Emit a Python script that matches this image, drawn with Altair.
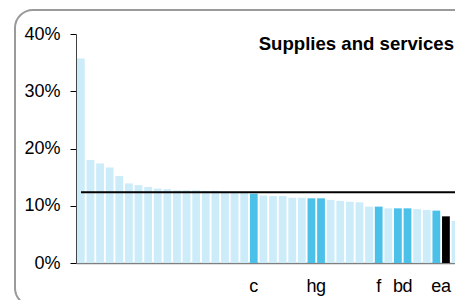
import altair as alt
import pandas as pd

# Share of spend per organisation (percent), sorted descending
values = [35.7, 18.0, 17.4, 16.7, 15.2, 13.9, 13.6, 13.3, 13.0, 12.9,
          12.7, 12.7, 12.7, 12.6, 12.6, 12.4, 12.3, 12.3, 12.1, 11.8,
          11.7, 11.7, 11.4, 11.4, 11.3, 11.3, 11.0, 10.85, 10.7, 10.6,
          9.85, 9.85, 9.55, 9.55, 9.55, 9.4, 9.25, 9.15, 8.15, 7.35, 6.8]
labels = ["", "", "", "", "", "", "", "", "", "",
          "", "", "", "", "", "", "", "", "c", "",
          "", "", "", "", "h", "g", "", "", "", "",
          "", "f", "", "b", "d", "", "", "e", "a", "", ""]
groups = ["other"] * 18 + ["highlight"] + ["other"] * 5 + ["highlight", "highlight"] + \
         ["other"] * 5 + ["highlight", "other", "highlight", "highlight", "other", "other",
                          "highlight", "black", "other", "other"]
mean_value = 12.35
title_text = "Supplies and services"

FONT = "Liberation Sans"

df = pd.DataFrame({
    "idx": list(range(len(values))),
    "share": [v / 100 for v in values],
    "label": labels,
    "group": groups,
})

label_expr = "[" + ",".join("'" + l + "'" for l in labels) + "][datum.value]"

W, H = 394, 229

x = alt.X("idx:O",
          scale=alt.Scale(paddingInner=0.19, paddingOuter=0.1),
          axis=alt.Axis(title=None, labelExpr=label_expr, labelAngle=0, ticks=False,
                        domainColor="#808080", domainWidth=1.5, labelFontSize=18,
                        labelPadding=14, labelColor="#000000", labelFont=FONT))
y = alt.Y("share:Q",
          scale=alt.Scale(domain=[0, 0.4]),
          axis=alt.Axis(title=None, format=".0%", values=[0, 0.1, 0.2, 0.3, 0.4], grid=False,
                        tickSize=6, tickColor="#000000", domainColor="#404040",
                        labelFontSize=18, labelPadding=10, labelColor="#000000",
                        labelFont=FONT))

bars = alt.Chart(df).mark_bar().encode(
    x=x, y=y,
    color=alt.Color("group:N",
                    scale=alt.Scale(domain=["other", "highlight", "black"],
                                    range=["#CCECF9", "#4BC1EA", "#000000"]),
                    legend=None),
)

rule = alt.Chart(pd.DataFrame({"mean": [mean_value / 100]})).mark_rule(
    color="#000000", strokeWidth=2).encode(
    y=alt.Y("mean:Q"), x=alt.value(5), x2=alt.value(W))

frame = alt.Chart(pd.DataFrame({"a": [0]})).mark_rect(
    fill="#ffffff", fillOpacity=0, stroke="#9a9a9a", strokeWidth=2, cornerRadius=18).encode(
    x=alt.value(-61), x2=alt.value(W + 30), y=alt.value(-24), y2=alt.value(272))

title = alt.Chart(pd.DataFrame({"t": [title_text]})).mark_text(
    font=FONT, fontSize=18.6, fontWeight="bold", align="right", baseline="alphabetic",
    color="#000000").encode(text="t:N", x=alt.value(378), y=alt.value(16))

chart = alt.layer(frame, bars, rule, title).properties(
    width=W, height=H,
    autosize=alt.AutoSizeParams(type="none"),
    padding={"left": 68, "top": 26, "right": -15, "bottom": 37},
).configure_view(strokeWidth=0)

chart.save("out.html", embed_options={"renderer": "svg", "actions": False})
